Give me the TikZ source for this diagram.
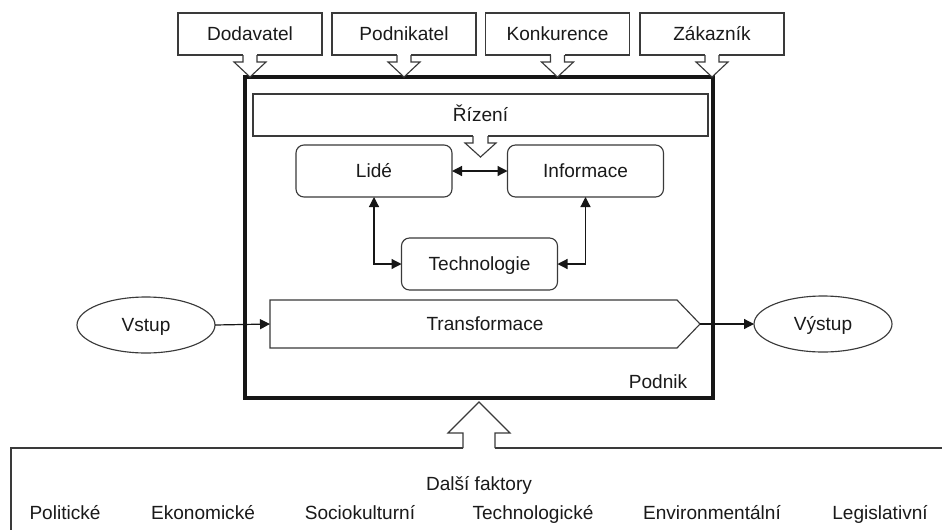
\documentclass[tikz,border=0pt]{standalone}
\usepackage{fontspec}
\setmainfont{Liberation Sans}
\usetikzlibrary{calc,arrows.meta,shapes.geometric}
\definecolor{linec}{HTML}{3A3A3A}
\definecolor{darkc}{HTML}{161616}
\definecolor{textc}{HTML}{1A1A1A}
\tikzset{
  lbl/.style={font=\fontsize{14.3}{17}\selectfont, text=textc, inner sep=0pt, text height=10.2pt, text depth=0pt},
  thinline/.style={draw=linec, line width=0.85pt},
  topbox/.style={lbl, thinline, rectangle, fill=white, minimum width=108pt, minimum height=31.5pt, outer sep=0pt},
  rbox/.style={lbl, thinline, rectangle, rounded corners=6pt, fill=white, minimum width=117pt, minimum height=39pt, outer sep=0pt},
  oval/.style={lbl, thinline, ellipse, fill=white, minimum width=103.5pt, minimum height=42pt, outer sep=0pt},
  mainbox/.style={draw=darkc, line width=2.8pt, rectangle, minimum width=351pt, minimum height=240.75pt, outer sep=0pt},
  conn/.style={draw=darkc, line width=0.9pt},
  tip/.style={-{Triangle[length=7.5pt,width=7.5pt]}},
  tips/.style={{Triangle[length=7.5pt,width=7.5pt]}-{Triangle[length=7.5pt,width=7.5pt]}},
}
% #1 anchor, #2 stem half width, #3 head half width, #4 shoulder offset, #5 apex offset, #6 cover offset
\newcommand{\hollowArrow}[6]{%
  \fill[white] ($(#1)+(-#2,#6)$) rectangle ($(#1)+(#2,#4)$);
  \fill[white] ($(#1)+(-#3,#4)$) -- ($(#1)+(0,#5)$) -- ($(#1)+(#3,#4)$) -- cycle;
  \draw[thinline, line join=miter] ($(#1)+(-#2,0)$) -- ($(#1)+(-#2,#4)$) -- ($(#1)+(-#3,#4)$)
     -- ($(#1)+(0,#5)$) -- ($(#1)+(#3,#4)$) -- ($(#1)+(#2,#4)$) -- ($(#1)+(#2,0)$);
}
\begin{document}
\begin{tikzpicture}[x=0.75pt,y=-0.75pt]
\useasboundingbox (0,0) rectangle (942,529);
\clip (0,0) rectangle (942,529);
\fill[white] (0,0) rectangle (942,529);

% main enterprise box
\node[mainbox] (podnik) at (479,237.5) {};
\node[lbl] (podniklbl) at (658,382) {Podnik};

% top actors
\node[topbox] (dod) at (250,34) {Dodavatel};
\node[topbox] (pod) at (404,34) {Podnikatel};
\node[topbox] (kon) at (557.5,34) {Konkurence};
\node[topbox] (zak) at (712,34) {Zákazník};
\hollowArrow{dod.south}{7}{16}{7}{22}{-1.5}
\hollowArrow{pod.south}{7}{16}{7}{22}{-1.5}
\hollowArrow{kon.south}{7}{16}{7}{22}{-1.5}
\hollowArrow{zak.south}{7}{16}{7}{22}{-1.5}

% management
\node[topbox, minimum width=341.25pt] (riz) at (480.5,115) {Řízení};
\hollowArrow{riz.south}{7.5}{15.5}{7}{21}{-1.5}

% people, information, technology
\node[rbox] (lide) at (374,171) {Lidé};
\node[rbox] (info) at (585.5,171) {Informace};
\node[rbox] (tech) at (479.5,264) {Technologie};
\draw[conn, tips] (lide.east) -- (info.west);
\draw[conn, tips] (lide.south) |- (tech.west);
\draw[conn, tips] (info.south) |- (tech.east);

% transformation
\node[lbl, minimum width=322.5pt, minimum height=36pt, outer sep=0pt] (trans) at (485,324) {Transformace};
\draw[thinline, line join=miter] (trans.north west) -- ($(trans.north east)+(-23,0)$) -- (trans.east)
   -- ($(trans.south east)+(-23,0)$) -- (trans.south west) -- cycle;

\node[oval] (vstup) at (146,325) {Vstup};
\node[oval] (vystup) at (823,324) {Výstup};
\draw[conn, tip] (vstup.east) -- (trans.west);
\draw[conn, tip] (trans.east) -- (vystup.west);

% other factors
\coordinate (fakt) at (479,448);
\draw[thinline] (11,560) -- (11,448) -- (960,448);
\hollowArrow{fakt}{16}{31}{-15}{-46}{1.5}
\node[lbl] (dalsi) at (479,484) {Další faktory};
\node[lbl] (f1) at (65,513) {Politické};
\node[lbl] (f2) at (203,513) {Ekonomické};
\node[lbl] (f3) at (360,513) {Sociokulturní};
\node[lbl] (f4) at (533,513) {Technologické};
\node[lbl] (f5) at (712,513) {Environmentální};
\node[lbl] (f6) at (880,513) {Legislativní};
\end{tikzpicture}
\end{document}
